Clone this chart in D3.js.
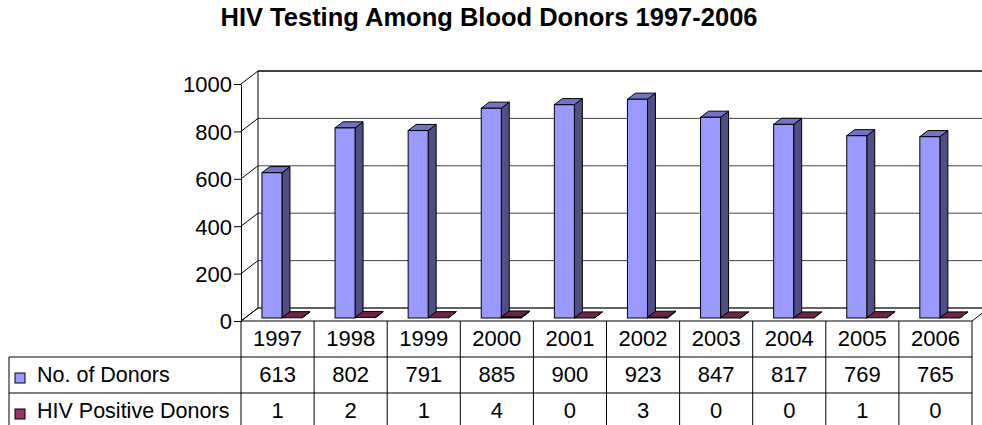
<!DOCTYPE html>
<html>
<head>
<meta charset="utf-8">
<script src="https://cdn.jsdelivr.net/npm/d3@7"></script>
<style>
  body { margin: 0; background: #fff; }
  svg text { font-family: "Liberation Sans", Arial, sans-serif; fill: #000; }
</style>
</head>
<body>
<svg id="chart"></svg>
<script>
var width = 982;
var height = 425;

// data
var years = ["1997", "1998", "1999", "2000", "2001", "2002", "2003", "2004", "2005", "2006"];
var donors = [613, 802, 791, 885, 900, 923, 847, 817, 769, 765];
var hivPositive = [1, 2, 1, 4, 0, 3, 0, 0, 1, 0];
var seriesNames = ["No. of Donors", "HIV Positive Donors"];
var yTicks = [0, 200, 400, 600, 800, 1000];

var colors = [
    {front: "#9999ff", side: "#4f4f86", top: "#7373c6"},
    {front: "#993366", side: "#5a1e3c", top: "#6e2448"}
];

// 3d box depth offset
var depthX = 17, depthY = -13;

var svg = d3.select("#chart").attr("width", width).attr("height", height);

var x = d3.scaleBand().domain(years).range([241, 972]);
var y = d3.scaleLinear().domain([0, 1000]).range([321, 84]);

function off(d) { return [depthX * d, depthY * d]; }

// title
svg.append("text")
    .attr("x", 489)
    .attr("y", 26)
    .attr("text-anchor", "middle")
    .style("font-weight", "bold")
    .style("font-size", "25.5px")
    .text("HIV Testing Among Blood Donors 1997-2006");

var wall = svg.append("g");

// floor
wall.append("path")
    .attr("d", "M241," + y(0) + "L972," + y(0) + "L" + (972 + depthX) + "," + (y(0) + depthY) +
        "L" + (241 + depthX) + "," + (y(0) + depthY) + "Z")
    .attr("fill", "#fff")
    .attr("stroke", "#000");

// back wall grid + side wall diagonals
yTicks.forEach(function(v) {
    var yy = y(v) + depthY;
    wall.append("line")
        .attr("x1", 241 + depthX).attr("y1", yy)
        .attr("x2", width + 20).attr("y2", yy)
        .attr("stroke", v == 1000 ? "#000" : "#444")
        .attr("stroke-width", v == 1000 ? 1.5 : 1);
    wall.append("line")
        .attr("x1", 241).attr("y1", y(v))
        .attr("x2", 241 + depthX).attr("y2", yy)
        .attr("stroke", "#000");
});
wall.append("line")
    .attr("x1", 241 + depthX).attr("y1", y(1000) + depthY)
    .attr("x2", 241 + depthX).attr("y2", y(0) + depthY)
    .attr("stroke", "#000");

// y axis
var yAxis = svg.append("g")
    .attr("transform", "translate(241,0)")
    .call(d3.axisLeft(y).tickValues(yTicks).tickFormat(d3.format("d"))
        .tickSize(7).tickSizeOuter(0).tickPadding(2));
yAxis.selectAll("text").style("font-size", "22px").attr("dy", "0.36em");
yAxis.selectAll("line, path").attr("stroke", "#000");

// bars
var bw = x.bandwidth();
var barW = bw * 0.274;
var d0 = 0.23, d1 = 0.70;
var bars = svg.append("g");

[donors, hivPositive].forEach(function(vals, s) {
    var g = bars.append("g");
    years.forEach(function(yr, i) {
        var left = x(yr) + bw * 0.233 + barW * s;
        var right = left + barW;
        var top = y(vals[i]), base = y(0);
        var a = off(d0), b = off(d1);
        var fl = left + a[0], fr = right + a[0], ft = top + a[1], fb = base + a[1];
        var dx = b[0] - a[0], dy = b[1] - a[1];
        // side
        g.append("path")
            .attr("d", "M" + fr + "," + fb + "L" + fr + "," + ft + "L" + (fr + dx) + "," + (ft + dy) +
                "L" + (fr + dx) + "," + (fb + dy) + "Z")
            .attr("fill", colors[s].side).attr("stroke", "#000").attr("stroke-linejoin", "round");
        // top
        g.append("path")
            .attr("d", "M" + fl + "," + ft + "L" + fr + "," + ft + "L" + (fr + dx) + "," + (ft + dy) +
                "L" + (fl + dx) + "," + (ft + dy) + "Z")
            .attr("fill", colors[s].top).attr("stroke", "#000").attr("stroke-linejoin", "round");
        // front
        if (fb - ft > 0.5) {
            g.append("rect")
                .attr("x", fl).attr("y", ft)
                .attr("width", barW).attr("height", fb - ft)
                .attr("fill", colors[s].front).attr("stroke", "#000");
        }
    });
});

// data table
var table = svg.append("g");
var rowY = [321, 357, 393, 429];
var tableLeft = 9;

years.forEach(function(yr, i) {
    table.append("line")
        .attr("x1", x(yr)).attr("x2", x(yr))
        .attr("y1", rowY[0]).attr("y2", height)
        .attr("stroke", "#000");
});
table.append("line")
    .attr("x1", 972).attr("x2", 972).attr("y1", rowY[0]).attr("y2", height)
    .attr("stroke", "#000");
table.append("line")
    .attr("x1", tableLeft).attr("x2", tableLeft).attr("y1", rowY[1]).attr("y2", height)
    .attr("stroke", "#000");
[rowY[1], rowY[2]].forEach(function(ry) {
    table.append("line")
        .attr("x1", tableLeft).attr("x2", 972).attr("y1", ry).attr("y2", ry)
        .attr("stroke", "#000");
});

var cellText = function(vals, row) {
    table.selectAll(null)
        .data(vals)
        .enter().append("text")
        .attr("x", function(d, i) { return x(years[i]) + bw / 2; })
        .attr("y", rowY[row] + 25)
        .attr("text-anchor", "middle")
        .style("font-size", "22px")
        .text(function(d) { return d; });
};
cellText(years, 0);
cellText(donors, 1);
cellText(hivPositive, 2);

// legend keys in table
seriesNames.forEach(function(name, s) {
    table.append("rect")
        .attr("x", 15).attr("y", rowY[s + 1] + 16)
        .attr("width", 10).attr("height", 10)
        .attr("fill", colors[s].front).attr("stroke", "#000");
    table.append("text")
        .attr("x", 37).attr("y", rowY[s + 1] + 25)
        .style("font-size", "21.5px")
        .text(name);
});
</script>
</body>
</html>
